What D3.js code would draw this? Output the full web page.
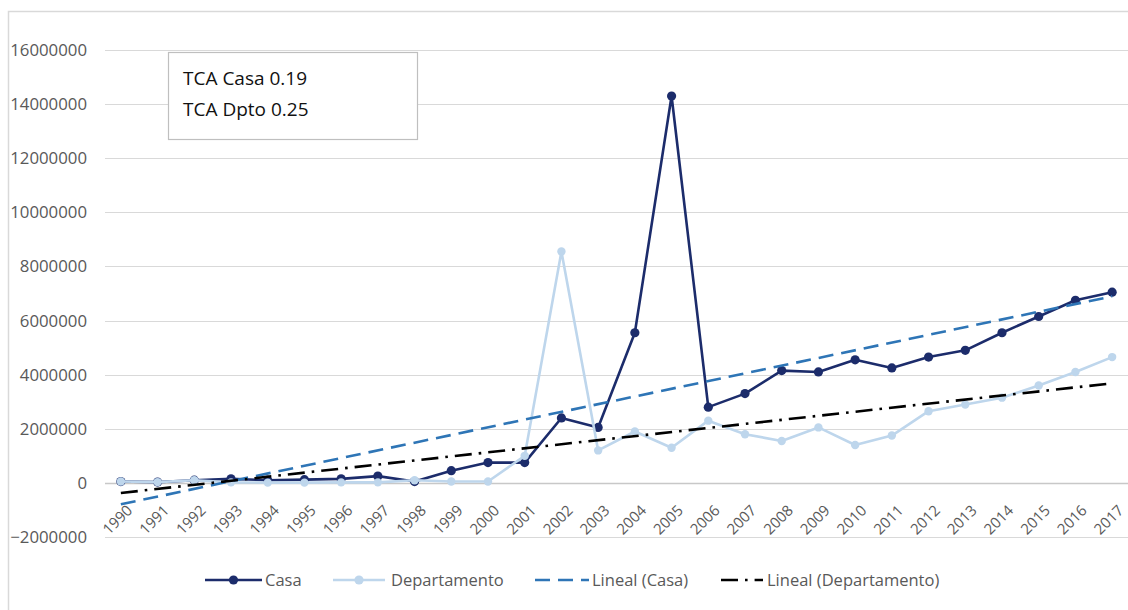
<!DOCTYPE html>
<html>
<head>
<meta charset="utf-8">
<script src="https://cdn.jsdelivr.net/npm/d3@7"></script>
<style>
  html, body { margin: 0; padding: 0; background: #fff; }
  svg { display: block; font-family: "Open Sans", "Noto Sans", sans-serif; }
</style>
</head>
<body>
<svg id="chart" width="1128" height="610"></svg>
<script>
// Years on the category axis
const years = [1990,1991,1992,1993,1994,1995,1996,1997,1998,1999,2000,2001,2002,2003,
               2004,2005,2006,2007,2008,2009,2010,2011,2012,2013,2014,2015,2016,2017];

// Series values
const casa = [50000,30000,100000,150000,100000,120000,150000,250000,50000,450000,750000,750000,
              2400000,2050000,5550000,14300000,2800000,3300000,4150000,4100000,4550000,4250000,
              4650000,4900000,5550000,6150000,6750000,7050000];
const departamento = [50000,30000,100000,20000,10000,10000,20000,20000,100000,50000,50000,1000000,
              8550000,1200000,1900000,1300000,2300000,1800000,1550000,2050000,1400000,1750000,
              2650000,2900000,3150000,3600000,4100000,4650000];

// Value axis ticks
const yTicks = [-2000000,0,2000000,4000000,6000000,8000000,10000000,12000000,14000000,16000000];

// Annotation box lines
const notes = ["TCA Casa 0.19", "TCA Dpto 0.25"];

const legendItems = ["Casa", "Departamento", "Lineal (Casa)", "Lineal (Departamento)"];

const colors = {
  casa: "#1c2c6b",
  depto: "#bed6ec",
  trendCasa: "#2e75b6",
  trendDepto: "#000000",
  grid: "#d9d9d9",
  axisText: "#595959"
};

const svg = d3.select("#chart");

const x = d3.scalePoint().domain(years).range([102.5, 1130.5]).padding(0.5);
const y = d3.scaleLinear().domain([-2000000, 16000000]).range([537, 50]);

// Outer chart frame
svg.append("rect")
  .attr("x", 8.5).attr("y", 11.5).attr("width", 1200).attr("height", 700)
  .attr("fill", "none").attr("stroke", colors.grid).attr("stroke-width", 1.5);

// Horizontal gridlines
svg.append("g").selectAll("line").data(yTicks).join("line")
  .attr("x1", 105).attr("x2", 1128)
  .attr("y1", d => Math.round(y(d)) + 0.5).attr("y2", d => Math.round(y(d)) + 0.5)
  .attr("stroke", d => d === 0 ? "#c8c8c8" : colors.grid)
  .attr("stroke-width", d => d === 0 ? 1.6 : 1.2);

// Value axis labels
svg.append("g").selectAll("text").data(yTicks).join("text")
  .attr("x", 87).attr("y", d => y(d)).attr("dy", "0.36em")
  .attr("text-anchor", "end")
  .attr("font-size", 16.8).attr("fill", colors.axisText)
  .text(d => d3.format("d")(d));

// Category labels, rotated
svg.append("g").selectAll("text").data(years).join("text")
  .attr("transform", d => `translate(${x(d) + 5},${y(0) + 21}) rotate(-45)`)
  .attr("text-anchor", "end").attr("dy", "0.7em")
  .attr("font-size", 15).attr("fill", colors.axisText)
  .text(d => d);

// Series lines and markers
function drawSeries(values, color, r) {
  const pts = values.map((v, i) => [x(years[i]), y(v)]);
  svg.append("path").datum(pts)
    .attr("d", d3.line())
    .attr("fill", "none").attr("stroke", color)
    .attr("stroke-width", 2.6).attr("stroke-linejoin", "round");
  svg.append("g").selectAll("circle").data(pts).join("circle")
    .attr("cx", d => d[0]).attr("cy", d => d[1]).attr("r", r)
    .attr("fill", color);
}
drawSeries(casa, colors.casa, 4.6);
drawSeries(departamento, colors.depto, 4.2);

// Least-squares linear trendline over the category index
function linearFit(values) {
  const n = values.length;
  const idx = d3.range(n);
  const mx = d3.mean(idx), my = d3.mean(values);
  const sxy = d3.sum(idx, i => (i - mx) * (values[i] - my));
  const sxx = d3.sum(idx, i => (i - mx) * (i - mx));
  const slope = sxy / sxx;
  const b = my - slope * mx;
  return i => b + slope * i;
}
function drawTrend(values, color, dash) {
  const f = linearFit(values);
  const n = values.length;
  svg.append("line")
    .attr("x1", x(years[0])).attr("y1", y(f(0)))
    .attr("x2", x(years[n - 1])).attr("y2", y(f(n - 1)))
    .attr("stroke", color).attr("stroke-width", 2.6)
    .attr("stroke-dasharray", dash);
}
drawTrend(casa, colors.trendCasa, "15,8");
drawTrend(departamento, colors.trendDepto, "17,7,2.6,7");

// Annotation box
const box = svg.append("g");
box.append("rect")
  .attr("x", 168.5).attr("y", 52.5).attr("width", 249).attr("height", 87)
  .attr("fill", "#fff").attr("stroke", "#bfbfbf").attr("stroke-width", 1.2);
box.selectAll("text").data(notes).join("text")
  .attr("x", 183).attr("y", (d, i) => 85 + i * 31)
  .attr("font-size", 19).attr("fill", "#111")
  .text(d => d);

// Legend
const legendY = 580;
const lg = svg.append("g");
const legendLayout = [
  { x1: 205, x2: 262, tx: 265, color: colors.casa, marker: true, dash: null },
  { x1: 333, x2: 385, tx: 391, color: colors.depto, marker: true, dash: null },
  { x1: 535, x2: 589, tx: 592, color: colors.trendCasa, marker: false, dash: "15,8" },
  { x1: 721, x2: 763, tx: 767, color: colors.trendDepto, marker: false, dash: "17,7,2.6,7" }
];
legendItems.forEach((name, i) => {
  const L = legendLayout[i];
  lg.append("line")
    .attr("x1", L.x1).attr("x2", L.x2).attr("y1", legendY).attr("y2", legendY)
    .attr("stroke", L.color).attr("stroke-width", 2.6)
    .attr("stroke-dasharray", L.dash);
  if (L.marker) {
    lg.append("circle").attr("cx", (L.x1 + L.x2) / 2).attr("cy", legendY).attr("r", 4.6)
      .attr("fill", L.color);
  }
  lg.append("text")
    .attr("x", L.tx).attr("y", legendY).attr("dy", "0.36em")
    .attr("font-size", 16.5).attr("fill", colors.axisText)
    .text(name);
});
</script>
</body>
</html>
